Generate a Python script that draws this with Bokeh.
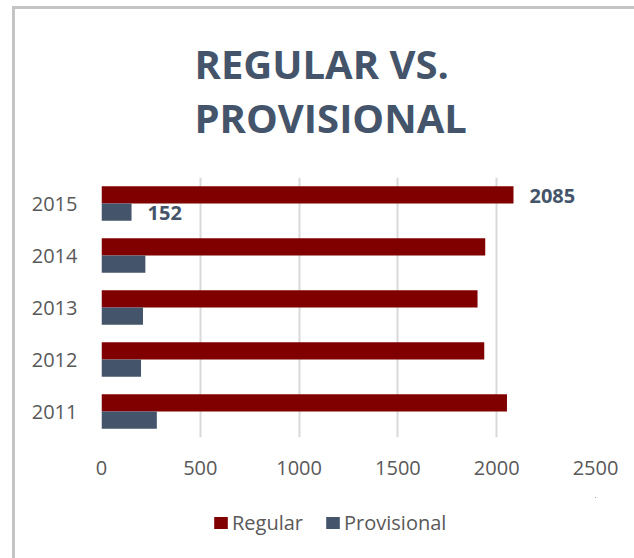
from bokeh.plotting import figure
from bokeh.layouts import column
from bokeh.models import (ColumnDataSource, FactorRange, Range1d, FixedTicker, Legend,
                          LegendItem, Title)
from bokeh.transform import dodge
from bokeh.core.properties import value
from bokeh.embed import file_html
from bokeh.resources import INLINE

# ---- data ----
years = ["2011", "2012", "2013", "2014", "2015"]
regular = [2052, 1937, 1903, 1942, 2085]
provisional = [280, 200, 210, 222, 152]
x_ticks = [0, 500, 1000, 1500, 2000, 2500]
title_text = "REGULAR VS.\nPROVISIONAL"
series_names = ["Regular", "Provisional"]

RED = "#800000"
SLATE = "#44546A"
GRAY_TXT = "#595959"
FONT = "Open Sans"
BORDER = "#C4C4C4"

src = ColumnDataSource(dict(year=years, regular=regular, provisional=provisional))

shadow_main = (f"inset 12px 0 0 0 #ffffff, inset 0 6px 0 0 #ffffff, "
               f"inset 15px 0 0 0 {BORDER}, inset 0 9px 0 0 {BORDER}")
shadow_leg = f"inset 12px 0 0 0 #ffffff, inset 15px 0 0 0 {BORDER}"

p = figure(frame_width=494, frame_height=260, output_backend="svg", toolbar_location=None,
           y_range=FactorRange(factors=years), x_range=Range1d(0, 2500),
           min_border_left=101, min_border_right=39, min_border_top=177, min_border_bottom=60,
           styles={"box-shadow": shadow_main})
p.outline_line_color = None
p.background_fill_color = "white"
p.border_fill_alpha = 0

r_reg = p.hbar(y=dodge("year", 0.165, range=p.y_range), left=0, right="regular", height=0.33,
               source=src, fill_color=RED, line_color=None)
r_pro = p.hbar(y=dodge("year", -0.165, range=p.y_range), left=0, right="provisional", height=0.33,
               source=src, fill_color=SLATE, line_color=None)

# data labels for the latest year
last = years[-1]
lab_src = ColumnDataSource(dict(year=[last], reg=[regular[-1]], pro=[provisional[-1]],
                                treg=[str(regular[-1])], tpro=[str(provisional[-1])]))
for col, txt, off in (("reg", "treg", 0.165), ("pro", "tpro", -0.165)):
    p.text(x=col, y=dodge("year", off, range=p.y_range), text=txt, source=lab_src,
           x_offset=16, y_offset=1, text_align="left", text_baseline="middle",
           text_font=value(FONT), text_font_style="bold", text_font_size="20px", text_color=SLATE)

# grid
p.ygrid.grid_line_color = None
p.xgrid.grid_line_color = "#D9D9D9"
p.xgrid.grid_line_width = 2
p.xaxis.ticker = FixedTicker(ticks=x_ticks)

for ax in (p.xaxis, p.yaxis):
    ax.axis_line_color = None
    ax.major_tick_line_color = None
    ax.minor_tick_line_color = None
    ax.major_tick_out = 0
    ax.major_tick_in = 0
    ax.major_label_text_font = FONT
    ax.major_label_text_font_size = "20px"
    ax.major_label_text_color = GRAY_TXT
p.xaxis.major_label_standoff = 23
p.yaxis.major_label_standoff = 24

# title
title = Title(text=title_text, align="left", offset=93, standoff=62, vertical_align="top",
              text_font=FONT, text_font_style="bold", text_font_size="40px",
              text_color=SLATE, text_line_height=0.99)
p.add_layout(title, "above")

# legend strip (separate small figure directly below the chart; frames are aligned)
p_leg = figure(width=634, height=61, output_backend="svg", toolbar_location=None,
               x_range=Range1d(0, 1), y_range=Range1d(0, 1),
               x_axis_type=None, y_axis_type=None,
               min_border_left=0, min_border_right=0, min_border_top=0, min_border_bottom=0,
               styles={"box-shadow": shadow_leg})
p_leg.outline_line_color = None
p_leg.background_fill_alpha = 0
p_leg.border_fill_alpha = 0
p_leg.grid.visible = False
# swatch renderers (zero-width, outside the strip's range; only their style is used)
lr_reg = p_leg.hbar(y="regular", left="regular", right="regular", height=0.3, source=src,
                    fill_color=RED, line_color=None)
lr_pro = p_leg.hbar(y="provisional", left="provisional", right="provisional", height=0.3,
                    source=src, fill_color=SLATE, line_color=None)

legend = Legend(items=[LegendItem(label=series_names[0], renderers=[lr_reg]),
                       LegendItem(label=series_names[1], renderers=[lr_pro])],
                location=(111, 22), orientation="horizontal")
legend.label_text_font = FONT
legend.label_text_font_size = "20px"
legend.label_text_color = GRAY_TXT
legend.glyph_width = 17
legend.glyph_height = 15
legend.label_standoff = 3
legend.spacing = 21
legend.padding = 0
legend.margin = 0
legend.border_line_color = None
legend.background_fill_alpha = 0
p_leg.add_layout(legend, "center")

layout = column(p, p_leg, spacing=0)
open("out.html", "w").write(file_html(layout, INLINE))
